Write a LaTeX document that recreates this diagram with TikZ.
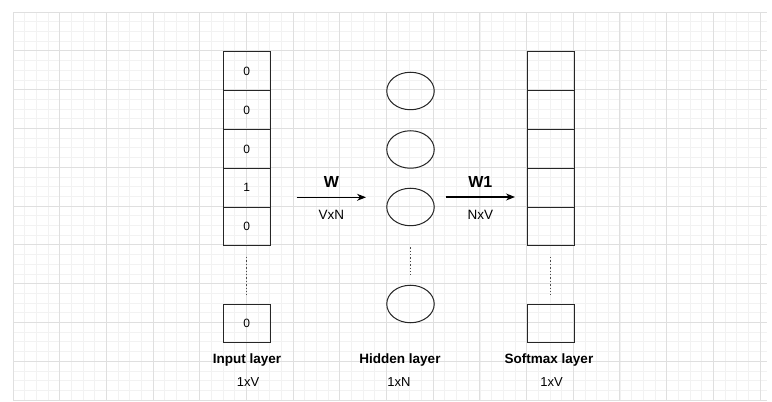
\documentclass[tikz,border=0pt]{standalone}
\usepackage{fontspec}
\setmainfont{Liberation Sans}
\usetikzlibrary{positioning,arrows.meta,shapes.geometric}

\begin{document}
\begin{tikzpicture}[
			x=1pt,y=1pt,
			node distance=0pt,
			cell/.style={
				draw=black!85,
				line width=1pt,
				minimum width=47pt,
				minimum height=38.8pt,
				inner sep=0pt,
				outer sep=0pt,
				font=\fontsize{12}{14}\selectfont
			},
			unit/.style={
				draw=black!85,
				line width=1pt,
				ellipse,
				minimum width=47.5pt,
				minimum height=37.5pt,
				inner sep=0pt
			},
			layername/.style={anchor=base,font=\bfseries\fontsize{13.5}{16}\selectfont},
			dimname/.style={anchor=base,font=\fontsize{13}{15}\selectfont},
			weight/.style={font=\bfseries\fontsize{16}{19}\selectfont},
			dimlabel/.style={font=\fontsize{13.5}{16}\selectfont},
			dots/.style={line width=1.2pt,black!70,dash pattern=on 1.4pt off 2pt},
			arrow/.style={-{Stealth[length=9pt,width=7pt]},line width=1.1pt}
			]
			
			% background grid
			\useasboundingbox (0,0) rectangle (772,402);
			\fill[white] (0,0) rectangle (772,402);
			\begin{scope}[shift={(13,390)}]
				\draw[gray!10,line width=0.6pt,xstep=11.67pt,ystep=9.7pt] (0,0) grid (754,-389);
				\draw[gray!25,line width=0.7pt,xstep=46.68pt,ystep=38.8pt] (0,0) grid (754,-389);
			\end{scope}
			
			% input layer
			\node[cell] (in1) at (246.8,330.6) {0};
			\node[cell,below=of in1] (in2) {0};
			\node[cell,below=of in2] (in3) {0};
			\node[cell,below=of in3] (in4) {1};
			\node[cell,below=of in4] (in5) {0};
			\node[cell] (in6) at (246.8,78.5) {0};
			\draw[dots,shorten <=11pt,shorten >=9pt] (in5) -- (in6);
			
			% hidden layer
			\node[unit] (h1) at (410.5,311) {};
			\node[unit] (h2) at (410.5,252.5) {};
			\node[unit] (h3) at (410.5,195) {};
			\node[unit] (h4) at (410.5,98) {};
			\draw[dots,shorten <=21pt,shorten >=10pt] (h3) -- (h4);
			
			% softmax layer
			\node[cell] (s1) at (550.7,330.6) {};
			\node[cell,below=of s1] (s2) {};
			\node[cell,below=of s2] (s3) {};
			\node[cell,below=of s3] (s4) {};
			\node[cell,below=of s4] (s5) {};
			\node[cell] (s6) at (550.7,78.5) {};
			\draw[dots,shorten <=11pt,shorten >=9pt] (s5) -- (s6);
			
			% weights
			\coordinate (wA) at (296.7,204.7);
			\coordinate (wB) at (366,204.7);
			\coordinate (vA) at (445.7,205);
			\coordinate (vB) at (515,205);
			\draw[arrow] (wA) -- (wB)
				node[weight,midway,above=6pt] (w) {W}
				node[dimlabel,midway,below=9pt] (wdim) {VxN};
			\draw[arrow] (vA) -- (vB)
				node[weight,midway,above=6pt] (w1) {W1}
				node[dimlabel,midway,below=9pt] (w1dim) {NxV};
			
			% layer names
			\node[layername] (inname) at (247,38.7) {Input layer};
			\node[dimname] (indim) at (248,15.3) {1xV};
			\node[layername] (hname) at (400,38.7) {Hidden layer};
			\node[dimname] (hdim) at (399,15.3) {1xN};
			\node[layername] (sname) at (549,38.7) {Softmax layer};
			\node[dimname] (sdim) at (551.5,15.3) {1xV};
			
		\end{tikzpicture}
\end{document}
